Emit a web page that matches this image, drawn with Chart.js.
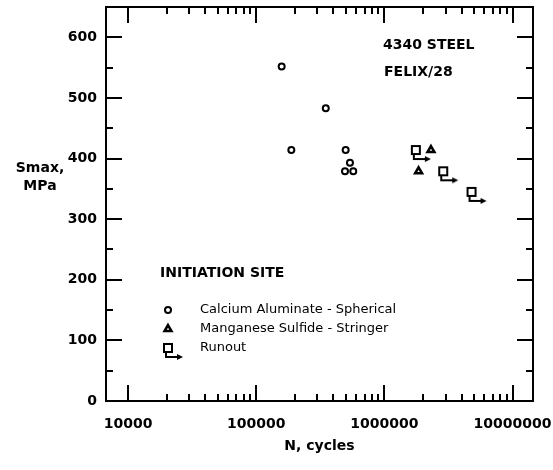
<!DOCTYPE html>
<html>
<head>
<meta charset="utf-8">
<script src="https://cdn.jsdelivr.net/npm/chart.js@4"></script>
<style>
  html, body { margin: 0; padding: 0; background: #fff; }
  canvas { display: block; }
</style>
</head>
<body>
<canvas id="main_chart" width="553" height="470"></canvas>
<script>
// N (cycles), Smax (MPa)
const calcium_n = [158000, 349000, 188000, 499000, 539000, 493000, 572000];
const calcium_s = [552, 483, 414, 414, 393, 379, 379];
const manganese_n = [2310000, 1850000];
const manganese_s = [414, 379];
const runout_n = [1760000, 2880000, 4790000];
const runout_s = [414, 379, 345];

const x_tick_values = [10000, 100000, 1000000, 10000000];
const x_tick_labels = ['10000', '100000', '1000000', '10000000'];
const y_tick_values = [0, 100, 200, 300, 400, 500, 600];
const y_tick_labels = ['0', '100', '200', '300', '400', '500', '600'];

const series_labels = [
  'Calcium Aluminate - Spherical',
  'Manganese Sulfide - Stringer',
  'Runout',
];

const to_points = (xs, ys) => xs.map((x, i) => ({ x: x, y: ys[i] }));

// runout symbol: open square with a bent arrow out of its bottom
const make_runout = () => {
  const c = document.createElement('canvas');
  c.width = 34;
  c.height = 34;
  const g = c.getContext('2d');
  const m = 17;
  g.strokeStyle = '#000';
  g.fillStyle = '#000';
  g.lineWidth = 2;
  g.strokeRect(m - 4, m - 4, 8, 8);
  g.beginPath();
  g.moveTo(m - 2, m + 4);
  g.lineTo(m - 2, m + 9);
  g.lineTo(m + 10, m + 9);
  g.stroke();
  g.beginPath();
  g.moveTo(m + 15, m + 9);
  g.lineTo(m + 9, m + 6);
  g.lineTo(m + 9, m + 12);
  g.closePath();
  g.fill();
  return c;
};
const runout_img = make_runout();

const font_bold = (size) => ({ family: 'DejaVu Sans', size: size, weight: 'bold' });

const frame_plugin = {
  id: 'frame',
  afterDatasetsDraw(chart) {
    const { ctx, chartArea: a, scales } = chart;
    ctx.save();
    ctx.strokeStyle = '#000';
    ctx.lineWidth = 2;
    ctx.strokeRect(a.left, a.top, a.right - a.left, a.bottom - a.top);

    ctx.beginPath();
    // log ticks on bottom and top
    for (let d = 10000; d <= 10000000; d *= 10) {
      for (let m = 1; m <= 9; m++) {
        const v = d * m;
        if (v > scales.x.max) break;
        const px = Math.round(scales.x.getPixelForValue(v));
        const len = m === 1 ? 16 : 7;
        ctx.moveTo(px, a.bottom);
        ctx.lineTo(px, a.bottom - len);
        ctx.moveTo(px, a.top);
        ctx.lineTo(px, a.top + len);
      }
    }
    // linear ticks on left and right
    for (let v = 0; v < 650; v += 50) {
      const py = Math.round(scales.y.getPixelForValue(v));
      const len = v % 100 === 0 ? 16 : 7;
      ctx.moveTo(a.left, py);
      ctx.lineTo(a.left + len, py);
      ctx.moveTo(a.right, py);
      ctx.lineTo(a.right - len, py);
    }
    ctx.stroke();

    ctx.fillStyle = '#000';
    ctx.textBaseline = 'middle';

    // y title, horizontal
    ctx.textAlign = 'center';
    ctx.font = 'bold 14px "DejaVu Sans"';
    ctx.fillText('Smax,', 40, 168);
    ctx.fillText('MPa', 40, 186);

    // material note
    ctx.textAlign = 'left';
    ctx.font = 'bold 14px "DejaVu Sans"';
    ctx.fillText('4340 STEEL', 383, 45);
    ctx.fillText('FELIX/28', 384, 72);

    // legend
    ctx.font = 'bold 14px "DejaVu Sans"';
    ctx.fillText('INITIATION SITE', 160, 273);
    ctx.font = '13px "DejaVu Sans"';
    const rows = [310, 329, 348];
    chart.data.datasets.forEach((ds, i) => {
      ctx.strokeStyle = '#000';
      ctx.fillStyle = '#fff';
      ctx.lineWidth = ds.borderWidth;
      Chart.helpers.drawPoint(ctx, {
        pointStyle: ds.pointStyle,
        radius: ds.pointRadius,
        rotation: 0,
        borderWidth: ds.borderWidth,
      }, 168, rows[i]);
      ctx.fillStyle = '#000';
      ctx.fillText(series_labels[i], 200, rows[i]);
    });
    ctx.restore();
  },
};

new Chart('main_chart', {
  type: 'scatter',
  data: {
    datasets: [
      {
        label: series_labels[0],
        data: to_points(calcium_n, calcium_s),
        pointStyle: 'circle',
        pointRadius: 3,
        borderWidth: 2,
        borderColor: '#000',
        backgroundColor: '#fff',
      },
      {
        label: series_labels[1],
        data: to_points(manganese_n, manganese_s),
        pointStyle: 'triangle',
        pointRadius: 4,
        borderWidth: 2.5,
        borderColor: '#000',
        backgroundColor: '#fff',
      },
      {
        label: series_labels[2],
        data: to_points(runout_n, runout_s),
        pointStyle: runout_img,
        pointRadius: 4,
        borderWidth: 2,
        borderColor: '#000',
        backgroundColor: '#fff',
      },
    ],
  },
  options: {
    responsive: false,
    animation: false,
    layout: { padding: { top: 7, right: 20, left: 0, bottom: 0 } },
    plugins: {
      legend: { display: false },
      tooltip: { enabled: false },
    },
    scales: {
      x: {
        type: 'logarithmic',
        min: 6730,
        max: 14450000,
        grid: { display: false, drawTicks: false },
        border: { display: false },
        afterBuildTicks: (s) => { s.ticks = x_tick_values.map(v => ({ value: v })); },
        afterFit: (s) => { s.height = 69; s.paddingLeft = 0; s.paddingRight = 0; },
        ticks: {
          autoSkip: false,
          maxRotation: 0,
          padding: 15,
          color: '#000',
          font: font_bold(14),
          callback: (v, i) => x_tick_labels[i],
        },
        title: {
          display: true,
          text: 'N, cycles',
          color: '#000',
          font: font_bold(14),
          padding: { top: 0, bottom: 15 },
        },
      },
      y: {
        type: 'linear',
        min: 0,
        max: 650,
        grid: { display: false, drawTicks: false },
        border: { display: false },
        afterBuildTicks: (s) => { s.ticks = y_tick_values.map(v => ({ value: v })); },
        afterFit: (s) => { s.width = 106; s.paddingTop = 0; s.paddingBottom = 0; },
        ticks: {
          padding: 9,
          color: '#000',
          font: font_bold(14),
          callback: (v, i) => y_tick_labels[i],
        },
      },
    },
  },
  plugins: [frame_plugin],
});
</script>
</body>
</html>
